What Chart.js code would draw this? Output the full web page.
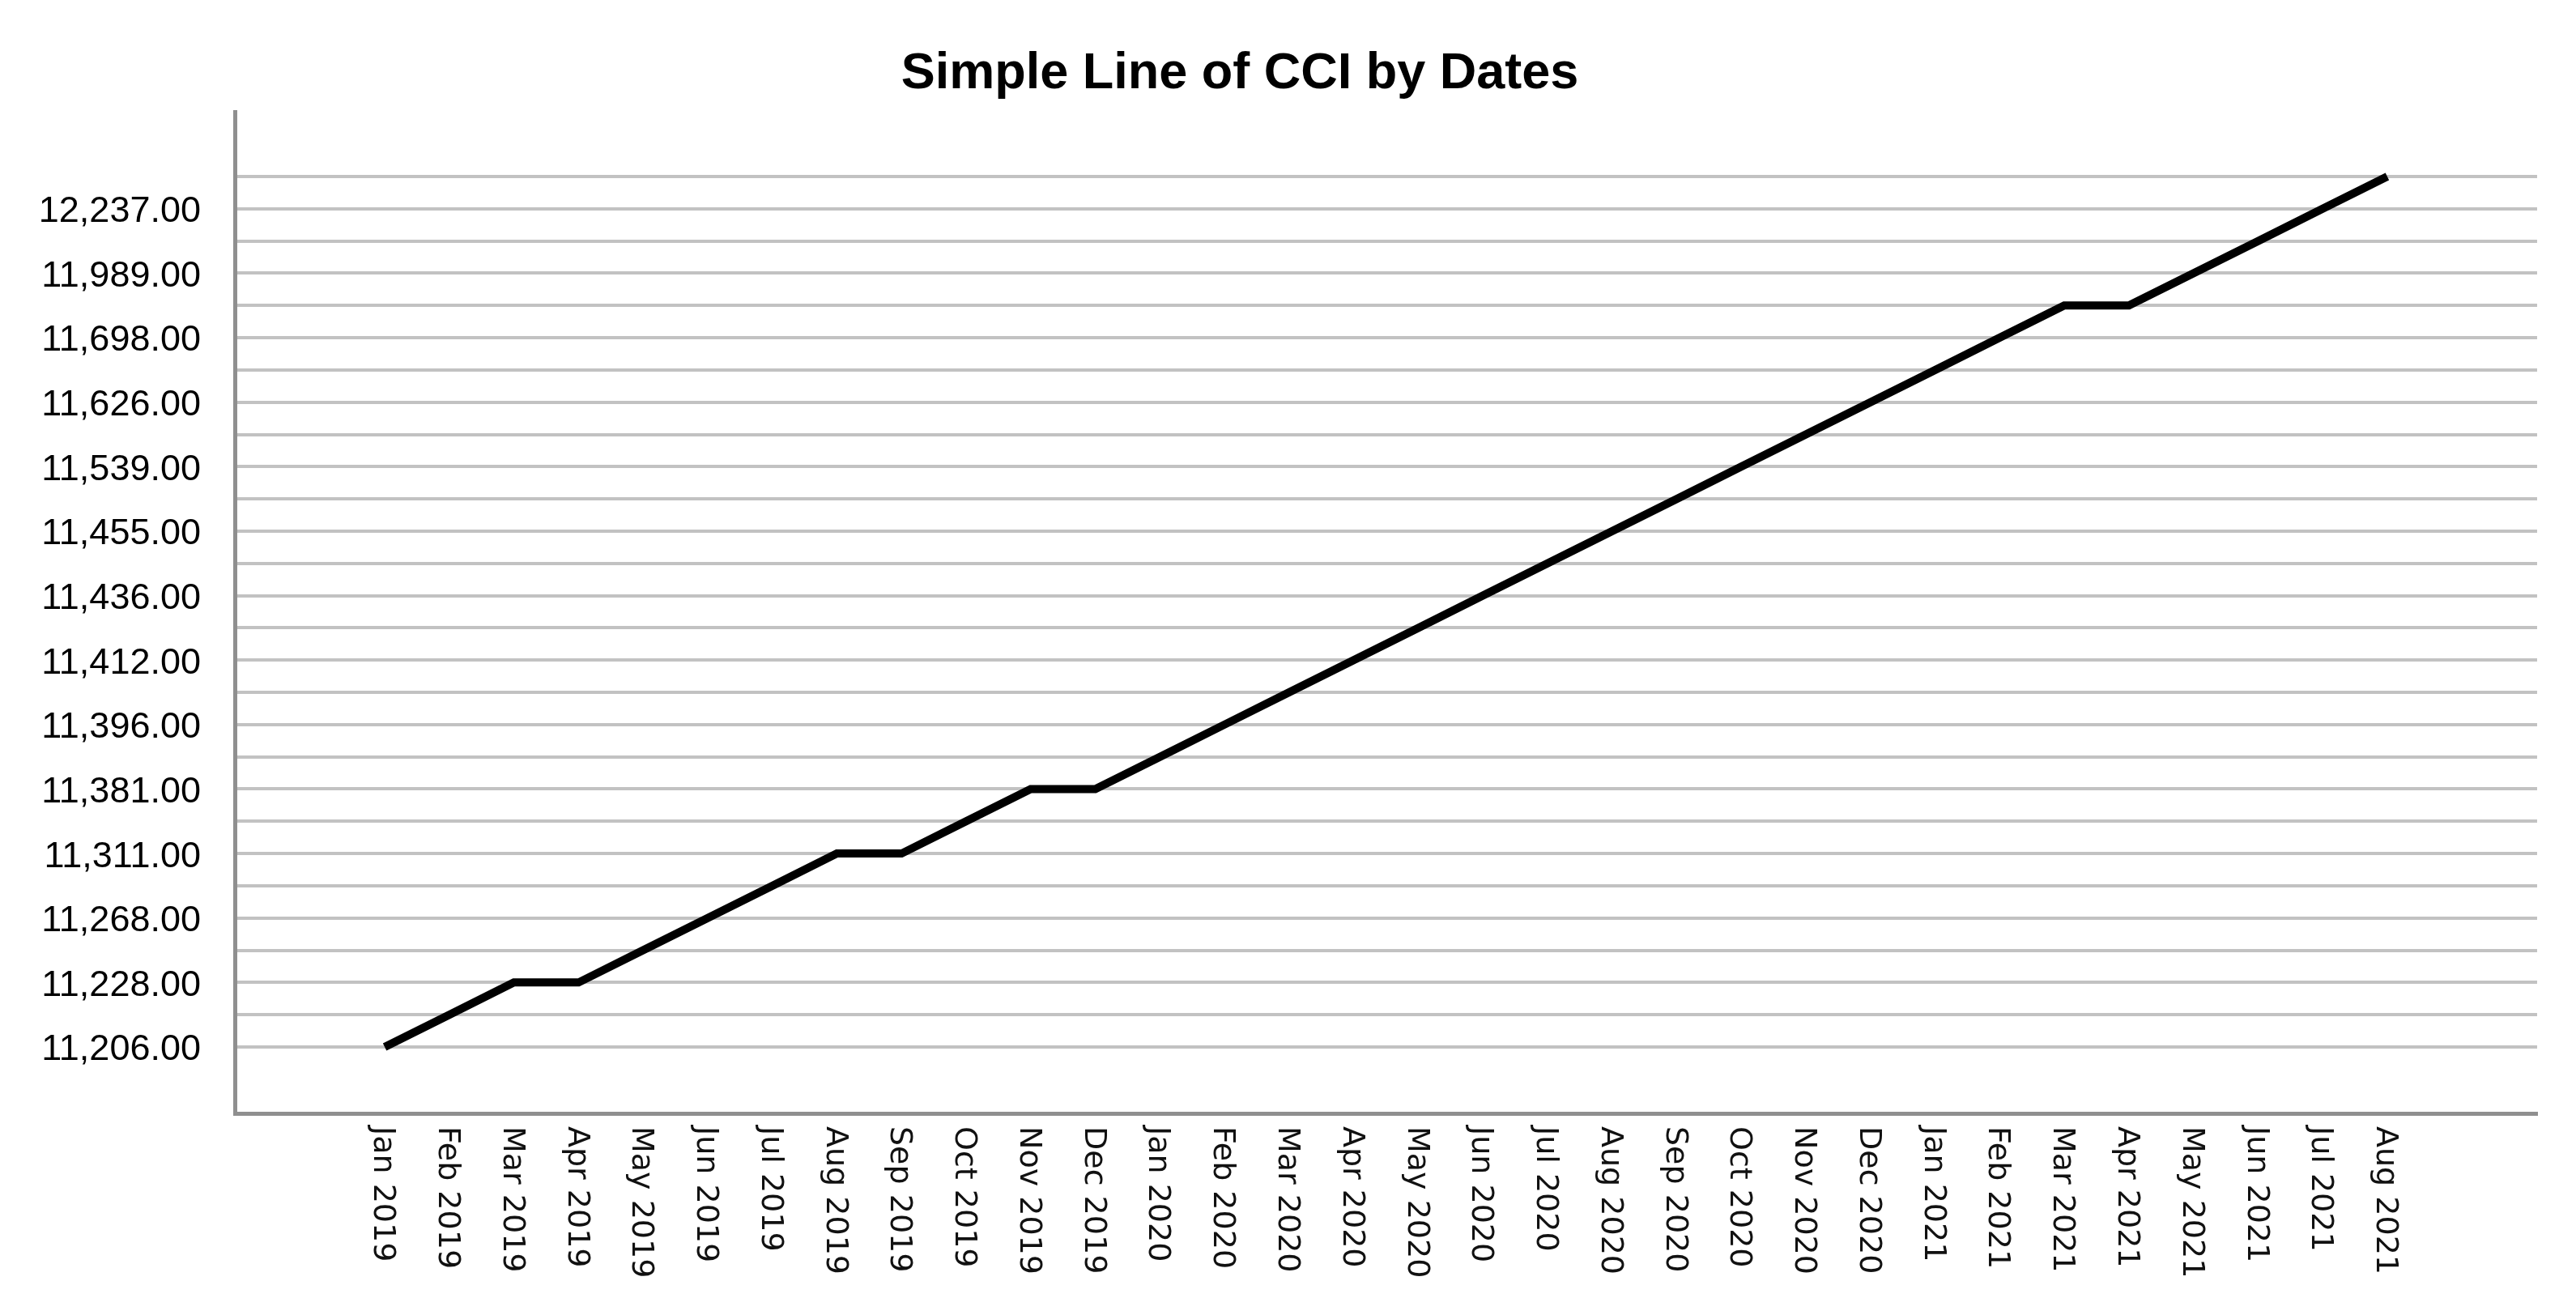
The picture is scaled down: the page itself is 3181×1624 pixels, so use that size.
<!DOCTYPE html>
<html>
<head>
<meta charset="utf-8">
<script src="https://cdn.jsdelivr.net/npm/chart.js@4"></script>
<style>
  html, body { margin: 0; padding: 0; background: #ffffff; }
  canvas { display: block; }
</style>
</head>
<body>
<canvas id="c" width="3181" height="1624"></canvas>
<script>
// Month categories (x axis)
const months = [
  'Jan 2019','Feb 2019','Mar 2019','Apr 2019','May 2019','Jun 2019','Jul 2019','Aug 2019',
  'Sep 2019','Oct 2019','Nov 2019','Dec 2019','Jan 2020','Feb 2020','Mar 2020','Apr 2020',
  'May 2020','Jun 2020','Jul 2020','Aug 2020','Sep 2020','Oct 2020','Nov 2020','Dec 2020',
  'Jan 2021','Feb 2021','Mar 2021','Apr 2021','May 2021','Jun 2021','Jul 2021','Aug 2021'
];

// Distinct CCI values shown as categories on the y axis (bottom to top).
// Every other level is labelled in the source; unlabelled ones are estimates.
const cciLevels = [
  11206, 11215, 11228, 11249, 11268, 11290, 11311, 11346, 11381, 11389,
  11396, 11404, 11412, 11425, 11436, 11447, 11455, 11498, 11539, 11583,
  11626, 11661, 11698, 11842, 11989, 12114, 12237, 12480
];

// CCI value for each month
const cci = [
  11206, 11215, 11228, 11228, 11249, 11268, 11290, 11311,
  11311, 11346, 11381, 11381, 11389, 11396, 11404, 11412,
  11425, 11436, 11447, 11455, 11498, 11539, 11583, 11626,
  11661, 11698, 11842, 11842, 11989, 12114, 12237, 12480
];

const titleText = 'Simple Line of CCI by Dates';

const fmt = v => v.toLocaleString('en-US', { minimumFractionDigits: 2, maximumFractionDigits: 2 });

const points = cci.map((v, i) => ({ x: i, y: cciLevels.indexOf(v) }));

const textPlugin = {
  id: 'texts',
  afterDraw(chart) {
    const xs = chart.scales.x;
    const ctx = chart.ctx;
    ctx.save();
    // title
    ctx.font = 'bold 63px "Liberation Sans", Arial, sans-serif';
    ctx.fillStyle = '#000000';
    ctx.textAlign = 'center';
    ctx.textBaseline = 'middle';
    ctx.fillText(titleText, 1531, 92);
    // rotated month labels, reading top to bottom
    ctx.font = '38px "DejaVu Sans"';
    ctx.fillStyle = '#111111';
    ctx.textAlign = 'left';
    ctx.textBaseline = 'middle';
    months.forEach((m, i) => {
      const x = xs.getPixelForValue(i);
      ctx.save();
      ctx.translate(x - 3, chart.chartArea.bottom + 16);
      ctx.rotate(Math.PI / 2);
      ctx.fillText(m, 0, 0);
      ctx.restore();
    });
    ctx.restore();
  }
};

new Chart(document.getElementById('c'), {
  type: 'line',
  data: {
    datasets: [{
      data: points,
      borderColor: '#000000',
      borderWidth: 10,
      pointRadius: 0,
      tension: 0,
      fill: false,
      borderJoinStyle: 'miter',
      borderCapStyle: 'butt'
    }]
  },
  options: {
    responsive: false,
    animation: false,
    layout: { padding: { left: 0, right: 48, top: 138, bottom: 0 } },
    plugins: {
      legend: { display: false },
      tooltip: { enabled: false },
      title: { display: false }
    },
    scales: {
      x: {
        type: 'linear',
        min: -2.32,
        max: months.length - 1 + 2.32,
        grid: { display: false },
        border: { display: true, color: '#8f8f8f', width: 5 },
        ticks: { display: false },
        afterFit(s) { s.height = 1624 - 1375; }
      },
      y: {
        type: 'linear',
        min: -2.06,
        max: cciLevels.length - 1 + 2.01,
        afterFit(s) { s.width = 290; },
        grid: {
          drawTicks: false,
          lineWidth: 4,
          color: c => (c.tick && c.tick.value >= 0 && c.tick.value <= cciLevels.length - 1) ? '#c2c2c2' : 'rgba(0,0,0,0)'
        },
        border: { display: true, color: '#8f8f8f', width: 5 },
        ticks: {
          stepSize: 1,
          autoSkip: false,
          includeBounds: false,
          padding: 42,
          labelOffset: 4,
          color: '#000000',
          font: { family: '"Liberation Sans", Arial, sans-serif', size: 45 },
          callback: v => (Number.isInteger(v) && v >= 0 && v < cciLevels.length && v % 2 === 0) ? fmt(cciLevels[v]) : ''
        }
      }
    }
  },
  plugins: [textPlugin]
});
</script>
</body>
</html>
